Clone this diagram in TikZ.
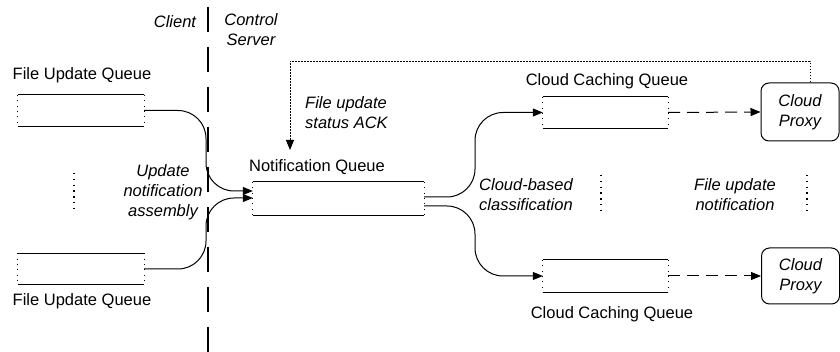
\documentclass[tikz,border=0pt]{standalone}
\usepackage{fontspec}
\setmainfont{Liberation Sans}
\usetikzlibrary{arrows.meta,calc}
\begin{document}
\begin{tikzpicture}[x=1pt,y=-1pt,
  every node/.style={font=\fontsize{16.5}{20}\selectfont, inner sep=0pt},
  lab/.style={align=center},
  ital/.style={font=\fontsize{16.5}{20}\selectfont\itshape, align=center},
  queue/.style={minimum width=126pt, minimum height=31pt},
  qedge/.style={line width=1.3pt},
  qside/.style={line width=0.9pt, dash pattern=on 0.9pt off 4.5pt},
  proxy/.style={draw, line width=1pt, rounded corners=8pt, minimum width=78pt,
    minimum height=58pt, align=center, font=\fontsize{16.5}{20}\selectfont\itshape},
  tip/.style={-{Triangle[length=10pt,width=8pt]}},
  conn/.style={tip, line width=1pt, rounded corners=28pt},
  dashconn/.style={tip, line width=1pt, dash pattern=on 12pt off 7pt},
  fb/.style={tip, line width=1pt, dash pattern=on 1.6pt off 1.4pt},
  sep/.style={line width=1.2pt, dash pattern=on 25pt off 15pt},
  vdots/.style={line width=1.4pt, dash pattern=on 1.4pt off 4.4pt},
]
\useasboundingbox (0,0) rectangle (840,352);

% client / control server boundary
\draw[sep] (208,7) -- (208,352);
\node[ital] (client) at (175,22) {Client};
\node[ital] (server) at (251,30) {Control\\Server};

% queues
\node[queue] (q1) at (81,110.5) {};
\node[queue] (q2) at (81,269) {};
\node[queue, minimum width=171pt, minimum height=33pt] (nq) at (338.5,198.5) {};
\node[queue, minimum width=125pt] (c1) at (605.5,112.5) {};
\node[queue, minimum width=125pt, minimum height=32pt] (c2) at (605.5,276) {};
\foreach \q in {q1,q2,nq,c1,c2}{
  \draw[qedge] (\q.north west) -- (\q.north east);
  \draw[qedge] (\q.south west) -- (\q.south east);
  \draw[qside] (\q.north west) -- (\q.south west);
  \draw[qside] (\q.north east) -- (\q.south east);
}

% queue labels
\node[lab] (q1l) at (82,75) {File Update Queue};
\node[lab] (q2l) at (82,301) {File Update Queue};
\node[lab] (nql) at (317,167) {Notification Queue};
\node[lab] (c1l) at (607,81) {Cloud Caching Queue};
\node[lab] (c2l) at (612,314) {Cloud Caching Queue};

% proxies
\node[proxy] (cp1) at (800,112) {Cloud\\Proxy};
\node[proxy, minimum height=56pt] (cp2) at (800.5,276) {Cloud\\Proxy};

% annotations
\node[ital] (asm) at (163,192) {Update\\notification\\assembly};
\node[ital, align=left, anchor=west] (ack) at (305,112.5) {File update\\status ACK};
\node[ital] (cls) at (526,195) {Cloud-based\\classification};
\node[ital] (fun) at (735,195) {File update\\notification};

% elided entries
\draw[vdots] (74,173) -- (74,212);
\draw[vdots] (601,175) -- (601,212);
\draw[vdots] (807,175) -- (807,212);

% merge into the notification queue
\coordinate (mergeX) at (206,0);
\coordinate (nqin1) at ([yshift=7.5pt]nq.west);
\coordinate (nqin2) at ([yshift=0.5pt]nq.west);
\draw[conn] (q1.east) -| (mergeX |- nqin1) -- (nqin1);
\draw[conn] (q2.east) -| (mergeX |- nqin2) -- (nqin2);

% split to the caching queues
\coordinate (splitX) at (475,0);
\coordinate (nqout1) at ([yshift=1.5pt]nq.east);
\coordinate (nqout2) at ([yshift=-7.5pt]nq.east);
\draw[conn] (nqout1) -| (splitX |- c1.west) -- (c1.west);
\draw[conn] (nqout2) -| (splitX |- c2.west) -- (c2.west);

% notifications to the proxies
\draw[dashconn] (c1.east) -- (cp1.west);
\draw[dashconn] (c2.east) -- (cp2.west);

% status acknowledgement back to the server
\coordinate (ackend) at (290,150);
\draw[fb] ([xshift=10pt]cp1.north) -- ++(0,-21) -| (ackend);
\end{tikzpicture}
\end{document}
